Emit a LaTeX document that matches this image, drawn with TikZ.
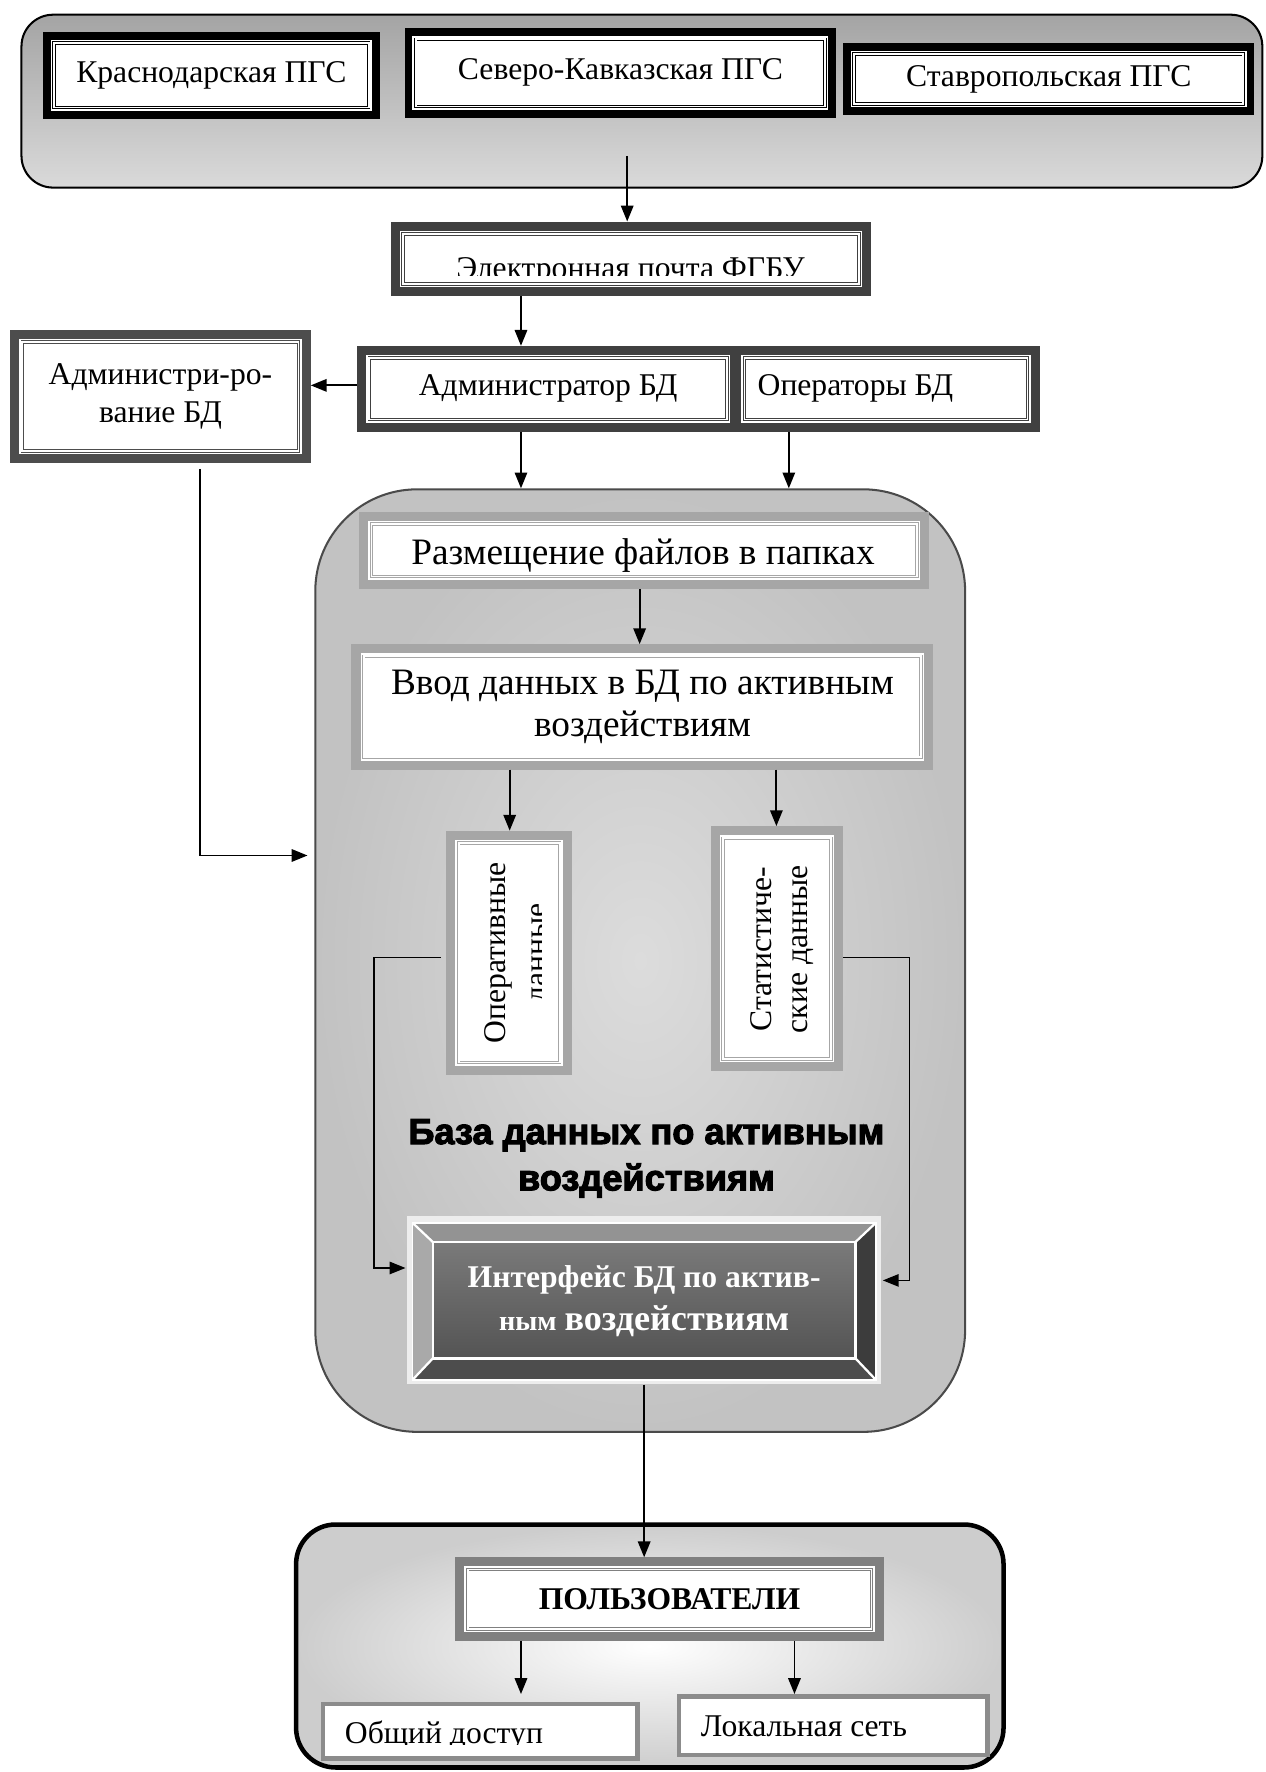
\documentclass[tikz,border=0pt]{standalone}
\usepackage{fontspec}
\setmainfont{Liberation Serif}
\newfontfamily\heavy[FakeBold=3]{Liberation Sans Bold}
\usetikzlibrary{arrows.meta}
\definecolor{fdark}{HTML}{404040}
\definecolor{fmid}{HTML}{4D4D4D}
\definecolor{flight}{HTML}{A6A6A6}
\definecolor{fusers}{HTML}{808080}
\definecolor{fthin}{HTML}{8C8C8C}
\definecolor{ctopA}{HTML}{A4A4A4}
\definecolor{ctopB}{HTML}{DADADA}
\definecolor{cdbIn}{HTML}{DCDCDC}
\definecolor{cdbOut}{HTML}{C2C2C2}
\definecolor{cdbLine}{HTML}{4A4A4A}
\definecolor{cbot}{HTML}{CDCDCD}
\definecolor{cfr}{HTML}{EDEDED}
\definecolor{cbevT}{HTML}{939393}
\definecolor{cbevB}{HTML}{4D4D4D}
\definecolor{cbevL}{HTML}{A9A9A9}
\definecolor{cbevR}{HTML}{3C3C3C}
\definecolor{cfaceA}{HTML}{7A7A7A}
\definecolor{cfaceB}{HTML}{545454}
\newcommand\fsz[2]{\fontsize{#1}{#2}\selectfont}
\tikzset{
  bx/.style 2 args={draw=#1, line width=#2, fill=white, inner sep=0pt, align=center,
    font=\fsz{28}{34},
    path picture={\draw[#1, line width=0.8pt, double=white, double distance=1.6pt]
      ([shift={({#2/2+2.8pt},{#2/2+2.8pt})}]path picture bounding box.south west) rectangle
      ([shift={({-#2/2-2.8pt},{-#2/2-2.8pt})}]path picture bounding box.north east);}},
  plainbx/.style={draw=fthin, line width=4pt, fill=white, inner sep=0pt},
  tip/.style={-{Triangle[length=14pt,width=11pt]}},
  arr/.style={line width=1.6pt, tip},
  ln/.style={line width=1.2pt},
  txt/.style={inner sep=0pt, align=center, font=\fsz{28}{34}},
}
\newcommand\frnode[9]{\node[bx={#6}{#7pt}, minimum width={#4-#2-#7}, minimum height={#5-#3-#7}, #9] (#1) at ({(#2+#4)/2},{(#3+#5)/2}) {#8};}
\begin{document}
\begin{tikzpicture}[x=1pt,y=-1pt]
\useasboundingbox (0,0) rectangle (1120,1568);

% ---------- top container ----------
\node[draw=black, line width=1.8pt, rounded corners=28pt, top color=ctopA, bottom color=ctopB,
  minimum width=1098, minimum height=153, inner sep=0pt] (pgs) at (568,89.5) {};
\frnode{kras}{38}{28}{336}{105}{black}{7}{Краснодарская ПГС}{}
\frnode{sev}{358}{25}{740}{104}{black}{7}{Северо-Кавказская ПГС}{}
\frnode{stav}{746}{38}{1110}{102}{black}{7}{Ставропольская ПГС}{}

% ---------- email ----------
\frnode{email}{346}{196}{771}{262}{fdark}{8}{}{}
\begin{scope}
  \clip (352,200) rectangle (765,244);
  \node[txt, anchor=base] (emailt) at (558,246) {Электронная почта ФГБУ};
\end{scope}

% ---------- admin / operators ----------
\frnode{admin}{316}{306}{654}{382}{fdark}{8}{Администратор БД}{}
\frnode{oper}{648}{306}{920}{382}{fdark}{8}{}{}
\node[txt] (opert) at (757,344) {Операторы БД};
\frnode{adm2}{9}{292}{275}{410}{fmid}{8}{Администри-ро-\\вание БД}{}

% ---------- database container ----------
\node[draw=cdbLine, line width=1.8pt, rounded corners=90pt, inner color=cdbIn, outer color=cdbOut,
  minimum width=575, minimum height=834, inner sep=0pt] (db) at (566.5,850) {};

\frnode{razm}{318}{453}{822}{521}{flight}{8}{}{}
\node[txt, font=\fsz{33}{39}] (razmt) at (569,492) {Размещение файлов в папках};
\frnode{vvod}{311}{570}{826}{681}{flight}{8}{Ввод данных в БД по активным\\воздействиям}{font=\fsz{33}{38}}

\frnode{opd}{395}{735}{506}{951}{flight}{8}{}{}
\begin{scope}
  \clip (400,740) rectangle (479,946);
  \node[txt, rotate=90, font=\fsz{28}{36}] (opdt) at (459,843) {Оперативные\\данные};
\end{scope}
\frnode{stat}{629}{731}{746}{948}{flight}{8}{}{}
\node[txt, rotate=90, font=\fsz{28}{32}] (statt) at (692,840) {Статистиче-\\ские данные};

\node[txt, font=\heavy\fsz{32}{41}] (title) at (572,1025) {База данных по активным\\воздействиям};

% ---------- interface ----------
\node[fill=cfr, minimum width=420, minimum height=149, inner sep=0pt] (iface) at (570,1150.5) {};
\fill[cbevT] (365,1082) -- (775,1082) -- (757,1099) -- (383,1099) -- cycle;
\fill[cbevB] (365,1221) -- (775,1221) -- (757,1202) -- (383,1202) -- cycle;
\fill[cbevL] (365,1082) -- (383,1099) -- (383,1202) -- (365,1221) -- cycle;
\fill[cbevR] (775,1082) -- (757,1099) -- (757,1202) -- (775,1221) -- cycle;
\shade[top color=cfaceA, bottom color=cfaceB] (383,1099) rectangle (757,1202);
\draw[white, line width=2pt] (383,1099) rectangle (757,1202);
\draw[white, line width=2pt] (365,1082) -- (383,1099) (775,1082) -- (757,1099)
  (365,1221) -- (383,1202) (775,1221) -- (757,1202);
\draw[white, line width=1.5pt] (365,1082) rectangle (775,1221);
\node[txt, text=white, font=\bfseries\fsz{28}{38}] (ifacet) at (570,1151)
  {Интерфейс БД по актив-\\{\fsz{25}{38}ным} {\fsz{32}{38}воздействиям}};

% ---------- users container ----------
\node[draw=black, line width=4pt, rounded corners=35pt, inner color=white, outer color=cbot,
  minimum width=626, minimum height=215, inner sep=0pt] (ucont) at (575,1456.5) {};
\frnode{users}{403}{1378}{782}{1452}{fusers}{8}{ПОЛЬЗОВАТЕЛИ}{font=\bfseries\fsz{28}{34}}
\node[plainbx, minimum width=278, minimum height=48] (obsh) at (425,1532) {};
\begin{scope}
  \clip (287,1511) rectangle (563,1543.5);
  \node[txt, anchor=base west] (obsht) at (305,1543) {Общий доступ};
\end{scope}
\node[plainbx, minimum width=273, minimum height=52] (lok) at (737.5,1527) {};
\node[txt, anchor=base west] (lokt) at (620,1537) {Локальная сеть};

% ---------- connectors ----------
\coordinate (src) at (555,138);
\coordinate (xA) at (461,0);
\coordinate (xB) at (698,0);
\coordinate (yA) at (0,341);
\coordinate (xC) at (177,0);
\coordinate (yC) at (0,757);
\coordinate (xD) at (566,0);
\coordinate (xE) at (451,0);
\coordinate (xF) at (687,0);
\coordinate (yG) at (0,847);
\coordinate (xG) at (331,0);
\coordinate (yH) at (0,1122);
\coordinate (xI) at (805,0);
\coordinate (yI) at (0,1133);
\coordinate (xJ) at (570,0);
\coordinate (xL) at (703,0);

\draw[arr] (src) -- (src |- email.north);
\draw[arr] (email.south -| xA) -- (admin.north -| xA);
\draw[arr] (admin.west |- yA) -- (adm2.east |- yA);
\draw[arr, shorten <=5pt, shorten >=6pt] (adm2.south -| xC) |- (db.west |- yC);
\draw[arr] (admin.south -| xA) -- (db.north -| xA);
\draw[arr] (oper.south -| xB) -- (db.north -| xB);
\draw[arr] (razm.south -| xD) -- (vvod.north -| xD);
\draw[arr] (vvod.south -| xE) -- (opd.north -| xE);
\draw[arr] (vvod.south -| xF) -- (stat.north -| xF);
\draw[ln, tip, shorten <=5pt, shorten >=1pt]
  (opd.west |- yG) -| (xG |- yH) -- (iface.west |- yH);
\draw[ln, tip, shorten >=1pt]
  (stat.east |- yG) -| (xI |- yI) -- (iface.east |- yI);
\draw[arr] (iface.south -| xJ) -- (users.north -| xJ);
\draw[arr, shorten >=7pt] (users.south -| xA) -- (obsh.north -| xA);
\draw[arr] (users.south -| xL) -- (lok.north -| xL);
\end{tikzpicture}
\end{document}
